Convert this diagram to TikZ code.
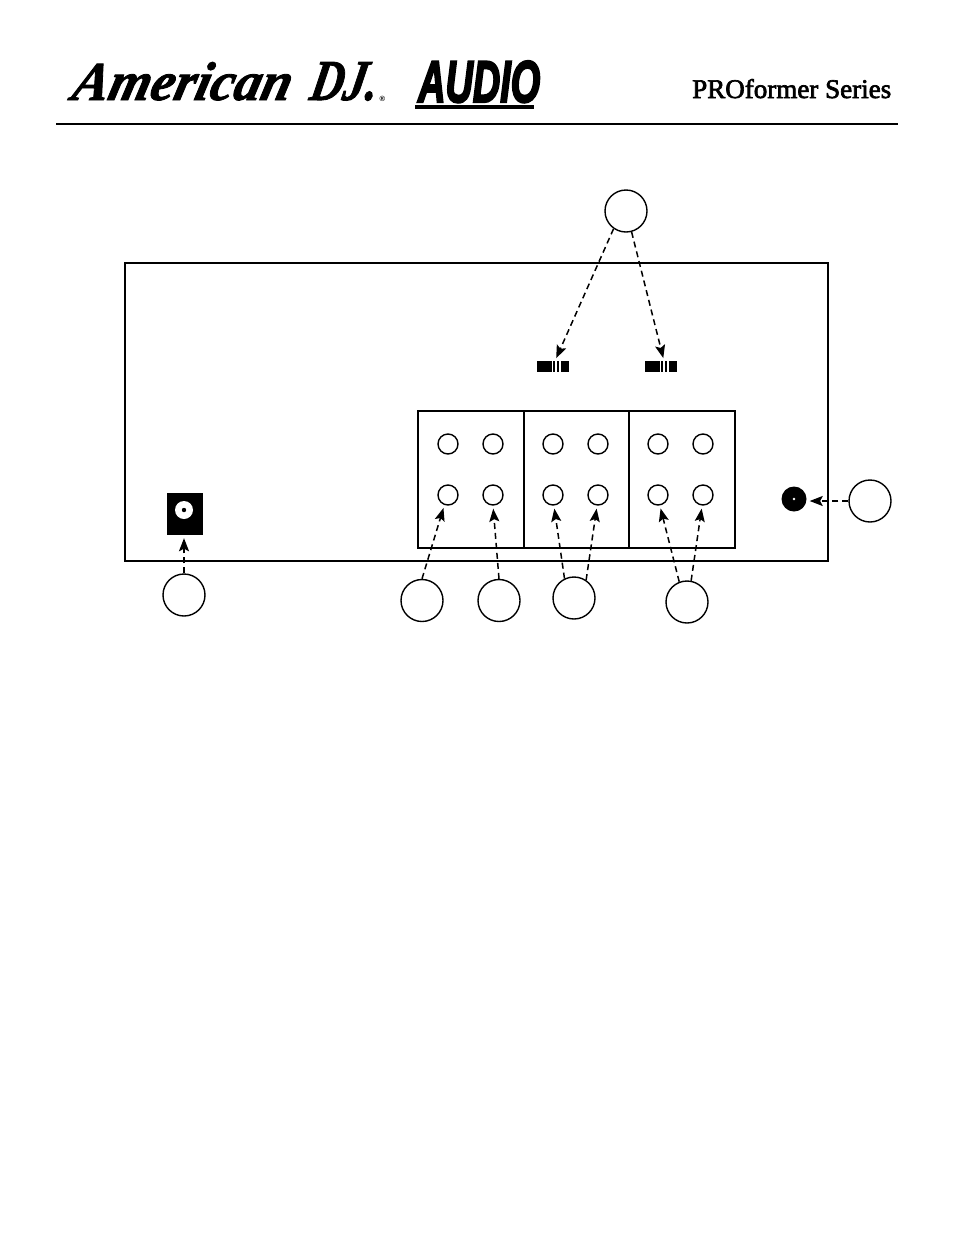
\documentclass[tikz,border=0pt]{standalone}
\usepackage{fontspec}
\setmainfont{Liberation Serif}
\newfontfamily\logoscript[FakeBold=1.5,FakeSlant=0.25]{Liberation Serif Bold Italic}
\newfontfamily\logoaudio[FakeBold=4]{Liberation Sans Bold Italic}
\newfontfamily\logosans{Liberation Sans}
\newfontfamily\logoserif[FakeBold=2.5]{Liberation Serif}
\usetikzlibrary{arrows.meta}
\tikzset{
  callout/.style={circle,draw=black,line width=1.4pt,minimum size=42pt,inner sep=0pt,fill=white},
  jackring/.style={circle,draw=black,line width=1.4pt,minimum size=20pt,inner sep=0pt},
  conn/.style={line width=1.5pt,dash pattern=on 6pt off 4pt,-{Stealth[length=13pt,width=10pt,inset=2.5pt]},shorten >=3pt},
  logotext/.style={inner sep=0pt,anchor=base west}
}
\newcommand{\switchblock}[1]{%
  \fill[black] (#1,361) rectangle ++(14.5,11);
  \fill[black] (#1+16,361) rectangle ++(2,11);
  \fill[black] (#1+20,361) rectangle ++(2,11);
  \fill[black] (#1+24,361) rectangle ++(8,11);
}
\begin{document}
\begin{tikzpicture}[x=1pt,y=-1pt]
\useasboundingbox (0,0) rectangle (954,1235);
\fill[white] (0,0) rectangle (954,1235);
% header
\node[logotext] (logoA) at (70,100) {\resizebox{218pt}{38pt}{\logoscript\fontsize{50}{50}\selectfont American}};
\node[logotext] (logoD) at (308,100) {\resizebox{67pt}{38pt}{\logoscript\fontsize{50}{50}\selectfont DJ.}};
\node[inner sep=0pt] (logoR) at (382.5,98.5) {\logosans\fontsize{7.5}{7.5}\selectfont\bfseries ®};
\node[logotext] (logoB) at (418,102) {\resizebox{122pt}{41pt}{\logoaudio\fontsize{57}{57}\selectfont AUDIO}};
\fill[black] (415,105) rectangle (534,109);
\node[logotext] (logoC) at (692,98) {\resizebox{199pt}{19pt}{\logoserif\fontsize{24}{24}\selectfont PROformer Series}};
\draw[line width=2pt] (56,123.5) -- (898,123.5);
% panel
\draw[line width=1.5pt] (125,263) rectangle (828,561);
\draw[line width=2pt] (418,411) rectangle (735,548);
\draw[line width=2pt] (524,411) -- (524,548);
\draw[line width=2pt] (629,411) -- (629,548);
% switches
\switchblock{537}
\switchblock{645}
\coordinate (sw1) at (555,361);
\coordinate (sw2) at (664,361);
% jacks
\node[jackring] (a1) at (448,444) {};
\node[jackring] (a2) at (493,444) {};
\node[jackring] (a3) at (553,444) {};
\node[jackring] (a4) at (598,444) {};
\node[jackring] (a5) at (658,444) {};
\node[jackring] (a6) at (703,444) {};
\node[jackring] (b1) at (448,495) {};
\node[jackring] (b2) at (493,495) {};
\node[jackring] (b3) at (553,495) {};
\node[jackring] (b4) at (598,495) {};
\node[jackring] (b5) at (658,495) {};
\node[jackring] (b6) at (703,495) {};
% power socket
\node[fill=black,minimum width=36pt,minimum height=42pt,inner sep=0pt] (socket) at (185,514) {};
\fill[white] (184,510) circle (9);
\fill[black] (184,510) circle (2.2);
% knob
\node[circle,fill=black,minimum size=25pt,inner sep=0pt] (knob) at (794,499) {};
\fill[white] (794,499) circle (1.4);
% callouts
\node[callout] (ctop) at (626,211) {};
\node[callout] (cs) at (184,595) {};
\node[callout] (c1) at (422,600.5) {};
\node[callout] (c2) at (499,600.5) {};
\node[callout] (c3) at (574,598) {};
\node[callout] (c4) at (687,602) {};
\node[callout] (cr) at (870,501) {};
% connectors
\draw[conn] (ctop.235) -- (sw1);
\draw[conn] (ctop.285) -- (sw2);
\draw[conn] (cs.north) -- (socket.south -| cs.north);
\draw[conn] (cr.west) -- (knob.east |- cr.west);
\draw[conn] (c1.north) -- (b1.250);
\draw[conn] (c2.north) -- (b2.270);
\draw[conn] (c3.116) -- (b3.275);
\draw[conn] (c3.56) -- (b4.265);
\draw[conn] (c4.111) -- (b5.280);
\draw[conn] (c4.79) -- (b6.265);
\end{tikzpicture}
\end{document}
